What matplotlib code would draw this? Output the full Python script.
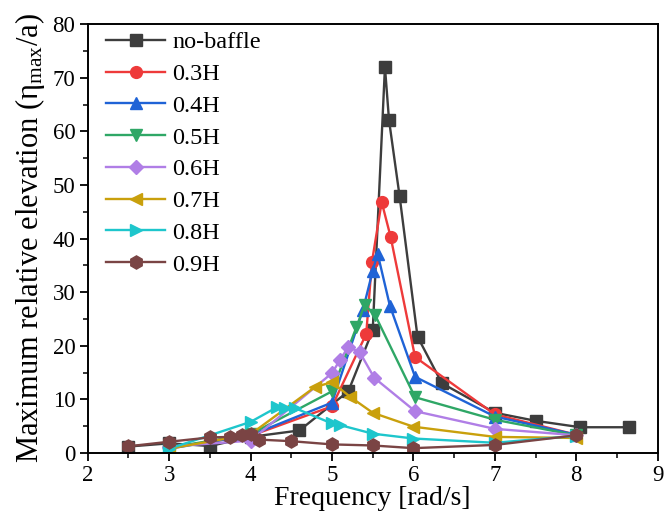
import matplotlib
matplotlib.use("Agg")
import matplotlib.pyplot as plt
from matplotlib.ticker import MultipleLocator

plt.rcParams['font.family'] = ['Liberation Serif', 'DejaVu Serif']
plt.rcParams['mathtext.fontset'] = 'custom'
plt.rcParams['mathtext.rm'] = 'Liberation Serif'
plt.rcParams['mathtext.it'] = 'Liberation Serif:italic'

labels = ['no-baffle', '0.3H', '0.4H', '0.5H', '0.6H', '0.7H', '0.8H', '0.9H']
colors = ['#3d3d3d', '#ee3a3a', '#1f63d6', '#2fa766', '#b07ee6', '#c9a00c', '#1ec6cc', '#7a4444']
markers = ['s', 'o', '^', 'v', 'D', '<', '>', 'h']

x_nb = [2.5, 3.0, 3.5, 4.0, 4.6, 5.2, 5.5, 5.65, 5.7, 5.83, 6.05, 6.35, 7.0, 7.5, 8.05, 8.65]
y_nb = [1.2, 1.8, 1.3, 3.0, 4.2, 11.5, 22.9, 72.0, 62.1, 47.9, 21.7, 13.0, 7.5, 6.0, 4.8, 4.8]

x_03 = [3.0, 4.0, 5.0, 5.42, 5.49, 5.61, 5.72, 6.02, 7.0, 8.0]
y_03 = [1.0, 3.2, 8.7, 22.2, 35.6, 46.8, 40.3, 17.9, 7.2, 3.4]

x_04 = [3.0, 4.0, 5.0, 5.38, 5.5, 5.56, 5.71, 6.02, 7.0, 8.0]
y_04 = [0.8, 3.3, 9.4, 26.7, 34.0, 37.2, 27.5, 14.2, 6.8, 3.4]

x_05 = [3.0, 4.0, 5.0, 5.3, 5.4, 5.53, 6.02, 7.0, 8.0]
y_05 = [1.0, 3.5, 11.5, 23.5, 27.6, 25.7, 10.4, 6.2, 3.3]

x_06 = [3.0, 4.0, 5.0, 5.1, 5.2, 5.34, 5.52, 6.02, 7.0, 8.0]
y_06 = [1.2, 2.3, 14.9, 17.4, 19.8, 18.8, 14.0, 7.8, 4.5, 3.3]

x_07 = [3.0, 4.0, 4.79, 5.0, 5.22, 5.5, 6.0, 7.0, 8.0]
y_07 = [0.8, 3.5, 12.3, 13.2, 10.5, 7.5, 4.9, 3.0, 2.8]

x_08 = [3.0, 4.0, 4.32, 4.42, 4.54, 5.0, 5.1, 5.5, 6.0, 7.0, 8.0]
y_08 = [0.8, 5.8, 8.5, 8.4, 8.4, 5.5, 5.2, 3.6, 2.7, 1.9, 3.2]

x_09 = [2.5, 3.0, 3.5, 3.75, 3.9, 4.0, 4.1, 4.5, 5.0, 5.5, 6.0, 7.0, 8.0]
y_09 = [1.25, 2.1, 2.9, 3.0, 3.3, 3.5, 2.5, 2.2, 1.6, 1.4, 0.9, 1.5, 3.3]

xs = [x_nb, x_03, x_04, x_05, x_06, x_07, x_08, x_09]
ys = [y_nb, y_03, y_04, y_05, y_06, y_07, y_08, y_09]

fig = plt.figure(figsize=(6.65, 5.13), dpi=100)
ax = fig.add_axes([0.132, 0.117, 0.857, 0.836])

for x, y, c, m, l in zip(xs, ys, colors, markers, labels):
    ms = 8.5
    if m == 'D':
        ms = 7.5
    if m == 'h':
        ms = 9.5
    ax.plot(x, y, color=c, marker=m, markersize=ms, linewidth=1.7, label=l)

ax.set_xlim(2, 9)
ax.set_ylim(0, 80)
ax.xaxis.set_major_locator(MultipleLocator(1))
ax.xaxis.set_minor_locator(MultipleLocator(0.5))
ax.yaxis.set_major_locator(MultipleLocator(10))
ax.yaxis.set_minor_locator(MultipleLocator(5))
ax.tick_params(which='major', direction='out', length=6, width=1.3, labelsize=16.5, pad=3)
ax.tick_params(which='minor', direction='out', length=3.5, width=1.1)
for s in ax.spines.values():
    s.set_linewidth(1.4)

ax.set_xlabel('Frequency [rad/s]', fontsize=20, labelpad=0)
ax.set_ylabel(r'Maximum relative elevation (η$_{\mathrm{max}}$/a)', fontsize=22, labelpad=4)

ax.legend(loc='upper left', frameon=False, fontsize=17.5, handlelength=2.4,
          labelspacing=0.4, borderaxespad=0.1, handletextpad=0.3,
          borderpad=0.2, bbox_to_anchor=(0.02, 1.0))

fig.savefig('out.png', dpi=100)
